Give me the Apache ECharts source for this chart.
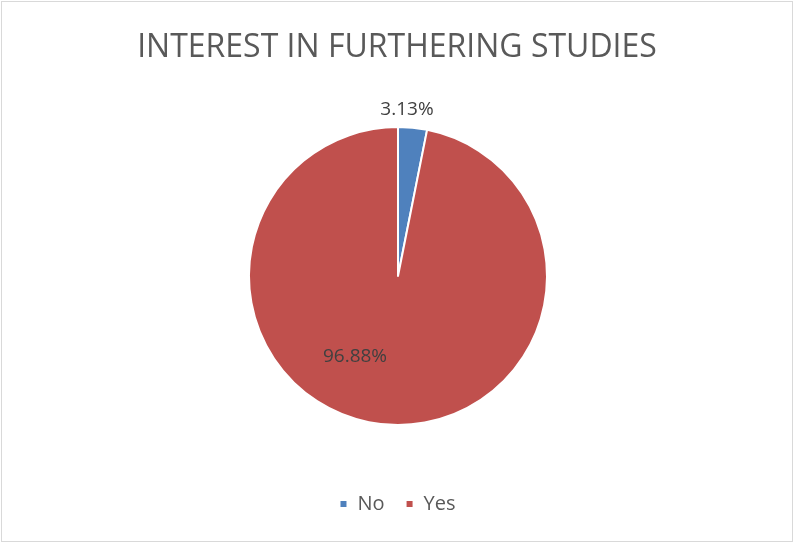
<!DOCTYPE html>
<html>
<head>
<meta charset="utf-8">
<script src="https://cdn.jsdelivr.net/npm/echarts@6/dist/echarts.min.js"></script>
<style>
  html, body { margin: 0; padding: 0; background: #fff; }
  #frame { position: absolute; left: 1px; top: 1px; width: 790px; height: 539px; border: 1px solid #d9d9d9; background: #fff; }
  #chart { width: 790px; height: 539px; }
</style>
</head>
<body>
<div id="frame"><div id="chart"></div></div>
<script>
// Survey answers and their shares (percent)
const titleText = 'INTEREST IN FURTHERING STUDIES';
const categories = ['No', 'Yes'];
const shares = [3.13, 96.88];
const colors = ['#4F81BD', '#C0504D'];

const fontFamily = '"Open Sans", "Liberation Sans", sans-serif';
const cx = 396, cy = 274, r = 149;
// label anchor offsets from the pie centre (outside label for the small slice, inner one for the large slice)
const labelOffsets = [[9, -166], [-43, 81]];

const chart = echarts.init(document.getElementById('chart'), null, { renderer: 'canvas' });

chart.setOption({
  animation: false,
  title: {
    text: titleText,
    left: 'center',
    top: 25,
    textStyle: { fontFamily, fontSize: 32, fontWeight: 'normal', color: '#595959' }
  },
  legend: {
    top: 487,
    left: 'center',
    icon: 'rect',
    itemWidth: 8,
    itemHeight: 8,
    itemGap: 20,
    textStyle: { fontFamily, fontSize: 20, color: '#595959', padding: [0, 0, 0, 5] },
    data: categories
  },
  series: [{
    type: 'pie',
    center: [cx, cy],
    radius: r,
    startAngle: 90,
    clockwise: true,
    itemStyle: { borderColor: '#fff', borderWidth: 2 },
    label: {
      fontFamily,
      fontSize: 19,
      color: '#404040',
      formatter: p => p.value.toFixed(2) + '%'
    },
    labelLine: { show: false },
    labelLayout: p => ({
      x: cx + labelOffsets[p.dataIndex][0],
      y: cy + labelOffsets[p.dataIndex][1],
      align: 'center',
      verticalAlign: 'middle'
    }),
    emphasis: { disabled: true },
    data: categories.map((name, i) => ({
      name,
      value: shares[i],
      itemStyle: { color: colors[i] },
      label: i === 0 ? { position: 'outside' } : { position: 'inside' }
    }))
  }]
});
</script>
</body>
</html>
